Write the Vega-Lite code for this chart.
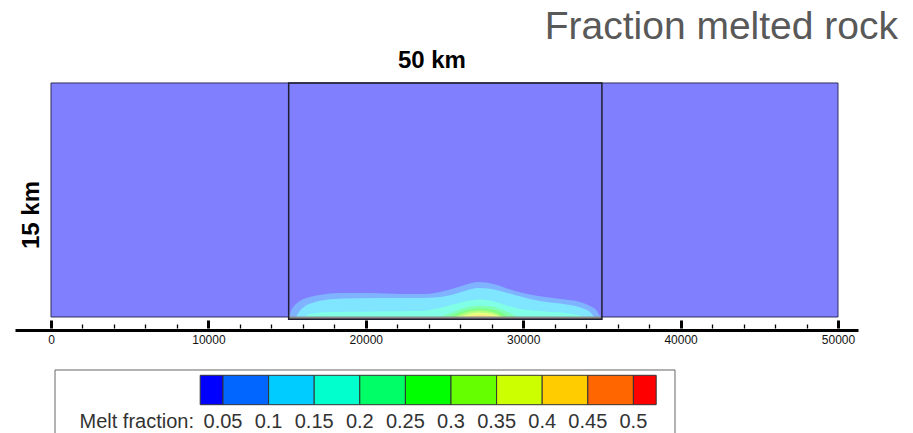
{
  "$schema": "https://vega.github.io/schema/vega-lite/v6.json",
  "width": 843,
  "height": 433,
  "padding": {"left": 15, "top": 0, "right": 0, "bottom": 0},
  "config": {"view": {"stroke": null}, "font": "Liberation Sans"},
  "datasets": {
    "bands": [
      {"level": "0.05", "x": 15120, "y": 0},
      {"level": "0.05", "x": 15247, "y": 385},
      {"level": "0.05", "x": 15501, "y": 769},
      {"level": "0.05", "x": 15819, "y": 1026},
      {"level": "0.05", "x": 16454, "y": 1282},
      {"level": "0.05", "x": 17090, "y": 1410},
      {"level": "0.05", "x": 18361, "y": 1538},
      {"level": "0.05", "x": 20267, "y": 1538},
      {"level": "0.05", "x": 22173, "y": 1474},
      {"level": "0.05", "x": 23761, "y": 1474},
      {"level": "0.05", "x": 24714, "y": 1603},
      {"level": "0.05", "x": 25667, "y": 1859},
      {"level": "0.05", "x": 26493, "y": 2115},
      {"level": "0.05", "x": 27128, "y": 2244},
      {"level": "0.05", "x": 27636, "y": 2211},
      {"level": "0.05", "x": 28335, "y": 2051},
      {"level": "0.05", "x": 29161, "y": 1763},
      {"level": "0.05", "x": 30114, "y": 1506},
      {"level": "0.05", "x": 31385, "y": 1282},
      {"level": "0.05", "x": 32655, "y": 1122},
      {"level": "0.05", "x": 33608, "y": 962},
      {"level": "0.05", "x": 34244, "y": 705},
      {"level": "0.05", "x": 34689, "y": 385},
      {"level": "0.05", "x": 34880, "y": 64},
      {"level": "0.05", "x": 34943, "y": 0},
      {"level": "0.1", "x": 15565, "y": 0},
      {"level": "0.1", "x": 15755, "y": 320},
      {"level": "0.1", "x": 16073, "y": 641},
      {"level": "0.1", "x": 16582, "y": 897},
      {"level": "0.1", "x": 17407, "y": 1090},
      {"level": "0.1", "x": 18678, "y": 1186},
      {"level": "0.1", "x": 20902, "y": 1218},
      {"level": "0.1", "x": 23443, "y": 1218},
      {"level": "0.1", "x": 24714, "y": 1282},
      {"level": "0.1", "x": 25667, "y": 1474},
      {"level": "0.1", "x": 26493, "y": 1731},
      {"level": "0.1", "x": 27128, "y": 1859},
      {"level": "0.1", "x": 27763, "y": 1827},
      {"level": "0.1", "x": 28526, "y": 1667},
      {"level": "0.1", "x": 29479, "y": 1410},
      {"level": "0.1", "x": 30432, "y": 1154},
      {"level": "0.1", "x": 31703, "y": 929},
      {"level": "0.1", "x": 32973, "y": 769},
      {"level": "0.1", "x": 33735, "y": 577},
      {"level": "0.1", "x": 34244, "y": 320},
      {"level": "0.1", "x": 34498, "y": 0},
      {"level": "0.15", "x": 16137, "y": 0},
      {"level": "0.15", "x": 16454, "y": 192},
      {"level": "0.15", "x": 17725, "y": 320},
      {"level": "0.15", "x": 20902, "y": 353},
      {"level": "0.15", "x": 23443, "y": 385},
      {"level": "0.15", "x": 24714, "y": 577},
      {"level": "0.15", "x": 25667, "y": 833},
      {"level": "0.15", "x": 26620, "y": 1058},
      {"level": "0.15", "x": 27255, "y": 1122},
      {"level": "0.15", "x": 27890, "y": 1058},
      {"level": "0.15", "x": 28843, "y": 769},
      {"level": "0.15", "x": 29796, "y": 513},
      {"level": "0.15", "x": 31385, "y": 353},
      {"level": "0.15", "x": 32973, "y": 224},
      {"level": "0.15", "x": 33926, "y": 0},
      {"level": "0.2", "x": 24714, "y": 0},
      {"level": "0.2", "x": 25222, "y": 192},
      {"level": "0.2", "x": 25858, "y": 449},
      {"level": "0.2", "x": 26620, "y": 673},
      {"level": "0.2", "x": 27255, "y": 737},
      {"level": "0.2", "x": 28018, "y": 673},
      {"level": "0.2", "x": 28717, "y": 449},
      {"level": "0.2", "x": 29288, "y": 192},
      {"level": "0.2", "x": 29669, "y": 0},
      {"level": "0.25", "x": 25349, "y": 0},
      {"level": "0.25", "x": 25858, "y": 256},
      {"level": "0.25", "x": 26493, "y": 449},
      {"level": "0.25", "x": 27255, "y": 545},
      {"level": "0.25", "x": 28018, "y": 481},
      {"level": "0.25", "x": 28653, "y": 256},
      {"level": "0.25", "x": 29034, "y": 0},
      {"level": "0.3", "x": 25667, "y": 0},
      {"level": "0.3", "x": 26112, "y": 224},
      {"level": "0.3", "x": 26747, "y": 385},
      {"level": "0.3", "x": 27255, "y": 417},
      {"level": "0.3", "x": 27890, "y": 353},
      {"level": "0.3", "x": 28399, "y": 192},
      {"level": "0.3", "x": 28717, "y": 0},
      {"level": "0.35", "x": 25985, "y": 0},
      {"level": "0.35", "x": 26430, "y": 160},
      {"level": "0.35", "x": 27128, "y": 289},
      {"level": "0.35", "x": 27763, "y": 256},
      {"level": "0.35", "x": 28272, "y": 128},
      {"level": "0.35", "x": 28526, "y": 0},
      {"level": "0.4", "x": 26366, "y": 0},
      {"level": "0.4", "x": 26874, "y": 96},
      {"level": "0.4", "x": 27382, "y": 128},
      {"level": "0.4", "x": 27890, "y": 64},
      {"level": "0.4", "x": 28145, "y": 0}
    ],
    "swatches": [
      {"bin": "b0", "lo": 0.025, "hi": 0.05},
      {"bin": "b1", "lo": 0.05, "hi": 0.1},
      {"bin": "b2", "lo": 0.1, "hi": 0.15},
      {"bin": "b3", "lo": 0.15, "hi": 0.2},
      {"bin": "b4", "lo": 0.2, "hi": 0.25},
      {"bin": "b5", "lo": 0.25, "hi": 0.3},
      {"bin": "b6", "lo": 0.3, "hi": 0.35},
      {"bin": "b7", "lo": 0.35, "hi": 0.4},
      {"bin": "b8", "lo": 0.4, "hi": 0.45},
      {"bin": "b9", "lo": 0.45, "hi": 0.5},
      {"bin": "b10", "lo": 0.5, "hi": 0.525}
    ],
    "labels": [
      {"v": 0.05, "t": "0.05"},
      {"v": 0.1, "t": "0.1"},
      {"v": 0.15, "t": "0.15"},
      {"v": 0.2, "t": "0.2"},
      {"v": 0.25, "t": "0.25"},
      {"v": 0.3, "t": "0.3"},
      {"v": 0.35, "t": "0.35"},
      {"v": 0.4, "t": "0.4"},
      {"v": 0.45, "t": "0.45"},
      {"v": 0.5, "t": "0.5"}
    ]
  },
  "layer": [
    {
      "layer": [
        {
          "data": {"values": [{}]},
          "mark": {"type": "rect", "fill": "#8080FF", "stroke": "#2E2E5C", "strokeWidth": 1},
          "encoding": {
            "x": {"datum": 0, "type": "quantitative",
              "scale": {"domain": [-2287, 51270], "nice": false, "zero": false},
              "axis": {"orient": "bottom", "values": [0, 10000, 20000, 30000, 40000, 50000], "format": "d", "offset": -103,
                "domain": true, "domainWidth": 3, "domainColor": "#000000",
                "ticks": false, "tickSize": 0,
                "labelFont": "Liberation Sans", "labelFontSize": 12, "labelColor": "#111111",
                "labelPadding": 4, "labelFlush": false, "labelOverlap": false,
                "title": null, "grid": false}},
            "x2": {"datum": 50000},
            "y": {"datum": 0, "type": "quantitative",
              "scale": {"domain": [-7436, 20320], "nice": false, "zero": false}, "axis": null},
            "y2": {"datum": 15000}
          }
        },
        {
          "data": {"name": "bands"},
          "mark": {"type": "area", "interpolate": "monotone"},
          "encoding": {
            "x": {"field": "x", "type": "quantitative",
              "axis": {"orient": "top", "values": [2000, 4000, 6000, 8000, 12000, 14000, 16000, 18000, 22000, 24000, 26000, 28000, 32000, 34000, 36000, 38000, 42000, 44000, 46000, 48000],
                "offset": -328, "domain": false, "labels": false, "ticks": true,
                "tickSize": 4, "tickWidth": 1.3, "tickColor": "#000000", "title": null, "grid": false}},
            "y": {"field": "y", "type": "quantitative", "stack": null, "axis": null},
            "y2": {"datum": 0},
            "color": {"field": "level", "type": "nominal",
              "scale": {"domain": ["0.05", "0.1", "0.15", "0.2", "0.25", "0.3", "0.35", "0.4"],
                "range": ["#80B3FF", "#80E6FF", "#80FFE6", "#80FFB3", "#80FF80", "#B3FF80", "#E6FF80", "#FFE680"]},
              "legend": null}
          }
        },
        {
          "data": {"values": [{}]},
          "mark": {"type": "rule", "stroke": "#8A8A8A", "strokeWidth": 3},
          "encoding": {
            "x": {"datum": 15100, "type": "quantitative",
              "axis": {"orient": "top", "values": [0, 10000, 20000, 30000, 40000, 50000],
                "offset": -328, "domain": false, "labels": false, "ticks": true,
                "tickSize": 8, "tickWidth": 3, "tickColor": "#000000", "title": null, "grid": false}},
            "x2": {"datum": 35000},
            "y": {"datum": -70, "type": "quantitative", "axis": null}
          }
        },
        {
          "data": {"values": [{}]},
          "mark": {"type": "rect", "fill": null, "fillOpacity": 0, "stroke": "#1E1E2E", "strokeWidth": 1.5},
          "encoding": {
            "x": {"datum": 15100, "type": "quantitative", "axis": null},
            "x2": {"datum": 35000},
            "y": {"datum": -140, "type": "quantitative", "axis": null},
            "y2": {"datum": 15000}
          }
        },
        {
          "data": {"values": [{}]},
          "mark": {"type": "text", "text": "Fraction melted rock", "align": "right", "baseline": "alphabetic",
            "fontSize": 39, "color": "#595959", "font": "Liberation Sans"},
          "encoding": {
            "x": {"datum": 53812, "type": "quantitative", "axis": null},
            "y": {"datum": 17820, "type": "quantitative", "axis": null}
          }
        },
        {
          "data": {"values": [{}]},
          "mark": {"type": "text", "text": "50 km", "align": "center", "baseline": "alphabetic",
            "fontSize": 24, "fontWeight": "bold", "color": "#000000", "font": "Liberation Sans"},
          "encoding": {
            "x": {"datum": 24200, "type": "quantitative", "axis": null},
            "y": {"datum": 15961, "type": "quantitative", "axis": null}
          }
        },
        {
          "data": {"values": [{}]},
          "mark": {"type": "text", "text": "15 km", "align": "center", "baseline": "middle", "angle": 270,
            "fontSize": 24, "fontWeight": "bold", "color": "#000000", "font": "Liberation Sans"},
          "encoding": {
            "x": {"datum": -1207, "type": "quantitative", "axis": null},
            "y": {"datum": 6538, "type": "quantitative", "axis": null}
          }
        }
      ],
      "resolve": {"axis": {"x": "independent"}}
    },
    {
      "layer": [
        {
          "data": {"name": "swatches"},
          "mark": {"type": "rect", "stroke": "#333333", "strokeWidth": 1},
          "encoding": {
            "x": {"field": "lo", "type": "quantitative",
              "scale": {"domain": [-0.17807, 0.74627], "nice": false, "zero": false}, "axis": null},
            "x2": {"field": "hi"},
            "y": {"datum": -3737, "type": "quantitative", "axis": null},
            "y2": {"datum": -5622},
            "color": {"field": "bin", "type": "nominal",
              "scale": {"domain": ["b0", "b1", "b2", "b3", "b4", "b5", "b6", "b7", "b8", "b9", "b10"],
                "range": ["#0000FF", "#0066FF", "#00CCFF", "#00FFCC", "#00FF66", "#00FF00", "#66FF00", "#CCFF00", "#FFCC00", "#FF6600", "#FF0000"]},
              "legend": null}
          }
        },
        {
          "data": {"values": [{}]},
          "mark": {"type": "rule", "stroke": "#666666", "strokeWidth": 1},
          "encoding": {
            "x": {"datum": -0.1342, "type": "quantitative", "axis": null},
            "x2": {"datum": 0.5456},
            "y": {"datum": -3397, "type": "quantitative", "axis": null}
          }
        },
        {
          "data": {"values": [{}]},
          "mark": {"type": "rule", "stroke": "#666666", "strokeWidth": 1},
          "encoding": {
            "x": {"datum": -0.1342, "type": "quantitative", "axis": null},
            "y": {"datum": -3397, "type": "quantitative", "axis": null},
            "y2": {"datum": -7436}
          }
        },
        {
          "data": {"values": [{}]},
          "mark": {"type": "rule", "stroke": "#666666", "strokeWidth": 1},
          "encoding": {
            "x": {"datum": 0.5456, "type": "quantitative", "axis": null},
            "y": {"datum": -3397, "type": "quantitative", "axis": null},
            "y2": {"datum": -7436}
          }
        },
        {
          "data": {"name": "labels"},
          "mark": {"type": "text", "align": "center", "baseline": "alphabetic", "fontSize": 20,
            "color": "#333333", "font": "Liberation Sans"},
          "encoding": {
            "x": {"field": "v", "type": "quantitative", "axis": null},
            "y": {"datum": -7115, "type": "quantitative", "axis": null},
            "text": {"field": "t", "type": "nominal"}
          }
        },
        {
          "data": {"values": [{}]},
          "mark": {"type": "text", "text": "Melt fraction:", "align": "right", "baseline": "alphabetic",
            "fontSize": 20, "color": "#333333", "font": "Liberation Sans"},
          "encoding": {
            "x": {"datum": 0.0182, "type": "quantitative", "axis": null},
            "y": {"datum": -7115, "type": "quantitative", "axis": null}
          }
        }
      ]
    }
  ],
  "resolve": {"scale": {"x": "independent", "color": "independent"}}
}
